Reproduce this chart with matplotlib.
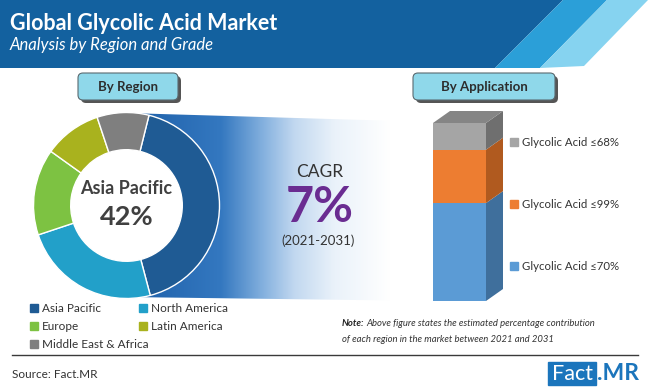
import matplotlib
matplotlib.use("Agg")
import numpy as np
from matplotlib import pyplot as plt
from matplotlib.patches import Polygon, FancyBboxPatch, Rectangle, Circle
from matplotlib.colors import LinearSegmentedColormap

# data
regions = ["Asia Pacific", "North America", "Europe", "Latin America", "Middle East & Africa"]
region_share = [42, 24, 15, 10, 9]
region_colors = ["#1f5b94", "#22a0c9", "#7dc242", "#a9b21e", "#7f7f7f"]

grades = ["Glycolic Acid ≤70%", "Glycolic Acid ≤99%", "Glycolic Acid ≤68%"]
grade_share = [55, 30, 15]
grade_front = ["#5b9bd5", "#ed7d31", "#a5a5a5"]
grade_side = ["#3f6f9c", "#b05a1f", "#6f6f6f"]

cagr_value = "7%"
cagr_period = "(2021-2031)"

FONT = ["Lato", "DejaVu Sans"]
plt.rcParams["font.family"] = FONT

W, H = 650, 389
fig = plt.figure(figsize=(W / 100, H / 100), dpi=100)
fig.patch.set_facecolor("white")


def px_axes(x0, y0, w, h):
    # axes from pixel box (top-left origin)
    return fig.add_axes([x0 / W, (H - y0 - h) / H, w / W, h / H])


bg = fig.add_axes([0, 0, 1, 1])
bg.set_xlim(0, W)
bg.set_ylim(H, 0)
bg.axis("off")

# header band + stripes
bg.add_patch(Polygon([(0, 0), (563, 0), (495, 68), (0, 68)], closed=True, color="#13619f", lw=0))
bg.add_patch(Polygon([(563, 0), (607, 0), (540, 68), (495, 68)], closed=True, color="#2b9fd8", lw=0))
bg.add_patch(Polygon([(607, 0), (648, 0), (584, 66), (540, 68)], closed=True, color="#86d3f0", lw=0))
bg.text(10, 23, "Global Glycolic Acid Market", color="white", fontsize=15.5, fontweight="bold",
        va="center", ha="left")
bg.text(10, 45, "Analysis by Region and Grade", color="white", fontsize=12, style="italic",
        va="center", ha="left")

# gradient band between donut and bar
cmap = LinearSegmentedColormap.from_list(
    "band", [(0, "#1d5fa8"), (0.31, "#3478c0"), (0.45, "#86b2df"), (0.55, "#c2d8f0"),
             (0.68, "#eaf2fa"), (0.86, "#ffffff"), (1, "#ffffff")])
grad = np.linspace(0, 1, 256)[None, :]
im = bg.imshow(grad, cmap=cmap, extent=(126, 433, 301, 113), aspect="auto", zorder=1)
clip = Polygon([(126, 113), (433, 122), (433, 301), (126, 297)], closed=True, transform=bg.transData)
im.set_clip_path(clip)
bg.set_xlim(0, W)
bg.set_ylim(H, 0)


def header_box(x0, x1, label):
    bg.add_patch(FancyBboxPatch((x0 + 3, 76), x1 - x0, 27, boxstyle="round,pad=0,rounding_size=5",
                                fc="#555555", ec="none", zorder=2))
    bg.add_patch(FancyBboxPatch((x0, 73), x1 - x0, 27, boxstyle="round,pad=0,rounding_size=5",
                                fc="#8fd8ea", ec="#5a6a70", lw=0.8, zorder=3))
    bg.text((x0 + x1) / 2, 87, label, fontsize=9.5, fontweight="bold", color="#2d2d2d",
            ha="center", va="center", zorder=4)


header_box(78, 178, "By Region")
header_box(413, 555, "By Application")

# CAGR block
bg.text(320, 172, "CAGR", fontsize=12.5, color="#333333", ha="center", va="center", zorder=3)
bg.text(320, 207, cagr_value, fontsize=35, fontweight="bold", color="#6a2c91", ha="center",
        va="center", zorder=3)
bg.text(318, 241, cagr_period, fontsize=9.5, color="#333333", ha="center", va="center", zorder=3)

# donut
dx = px_axes(31.5, 110.5, 190, 190)
dx.patch.set_visible(False)
r = 93 / 95
dx.add_patch(Circle((0, 0), r * 0.6, color="white", zorder=0))
dx.pie(region_share, colors=region_colors, startangle=76, counterclock=False, radius=r,
       wedgeprops=dict(width=r * 0.4, edgecolor="white", linewidth=1))
dx.set_xlim(-1, 1)
dx.set_ylim(-1, 1)
dx.text(0, 0.184, regions[0], fontsize=13, fontweight="bold", color="#404040", ha="center", va="center")
dx.text(0, -0.121, f"{region_share[0]}%", fontsize=19.5, fontweight="bold", color="#404040",
        ha="center", va="center")

# 3d stacked bar
bx = px_axes(420, 101, 100, 200)
bx.patch.set_visible(False)
bx.set_xlim(0, 100)
bx.set_ylim(0, 200 / 178 * 100)
bx.axis("off")
x_left, bar_w = 13, 53
ddx, ddy = 17, 12 / 1.78
bottoms = np.concatenate([[0], np.cumsum(grade_share)[:-1]])
bx.bar(x_left + bar_w / 2, grade_share, width=bar_w, bottom=bottoms, color=grade_front, lw=0)
xr = x_left + bar_w
for b, h, c in zip(bottoms, grade_share, grade_side):
    bx.add_patch(Polygon([(xr, b), (xr + ddx, b + ddy), (xr + ddx, b + h + ddy), (xr, b + h)],
                         closed=True, fc=c, ec="none"))
top = sum(grade_share)
bx.add_patch(Polygon([(x_left, top), (x_left + ddx, top + ddy), (xr + ddx, top + ddy), (xr, top)],
                     closed=True, fc="#858585", ec="none"))

# right legend
leg_y = [266, 204, 142]
for name, c, y in zip(grades, grade_front, leg_y):
    bg.add_patch(Rectangle((510, y - 4), 8, 8, color=c))
    bg.text(522, y, name, fontsize=8.2, color="#333333", ha="left", va="center", family=FONT)

# bottom-left legend
leg_pos = [(30, 308), (139, 308), (30, 326), (139, 326), (30, 344)]
for name, c, (x, y) in zip(regions, region_colors, leg_pos):
    bg.add_patch(Rectangle((x, y - 4), 8, 8, color=c))
    bg.text(x + 12, y, name, fontsize=8.5, color="#333333", ha="left", va="center")

# note
renderer = fig.canvas.get_renderer()
t = bg.text(342, 324, "Note:", fontsize=6.8, fontweight="bold", style="italic", color="#222222",
            ha="left", va="center")
wpx = t.get_window_extent(renderer).width
bg.text(342 + wpx + 1.5, 324, "Above figure states the estimated percentage contribution", fontsize=6.8,
        style="italic", color="#333333", ha="left", va="center")
bg.text(342, 340, "of each region in the market between 2021 and 2031", fontsize=6.8,
        style="italic", color="#333333", ha="left", va="center")

# footer
bg.plot([12, 638], [355, 355], color="#3a3a3a", lw=1)
bg.text(12, 374, "Source: Fact.MR", fontsize=8.5, color="#333333", ha="left", va="center")
bg.add_patch(Rectangle((548, 362), 48, 23, color="#1b75bc"))
bg.text(572, 373.5, "Fact", fontsize=15.5, color="white", ha="center", va="center")
bg.text(597, 373.5, ".MR", fontsize=16.5, fontweight="bold", color="#1b75bc", ha="left", va="center")

fig.savefig("out.png", dpi=100, facecolor="white")
